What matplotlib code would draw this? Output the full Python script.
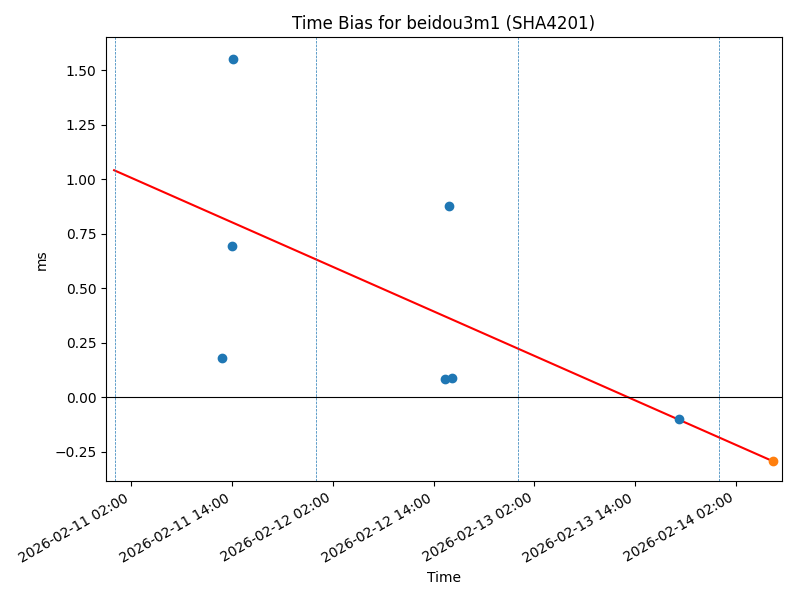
import matplotlib
matplotlib.use("Agg")
import matplotlib.pyplot as plt
import matplotlib.dates as mdates
import numpy as np
import pandas as pd

times = pd.to_datetime([
    "2026-02-11 12:49", "2026-02-11 14:05", "2026-02-11 14:00",
    "2026-02-12 15:51", "2026-02-12 15:20", "2026-02-12 16:12",
    "2026-02-13 19:10",
])
bias_ms = [0.182, 1.552, 0.693, 0.879, 0.084, 0.090, -0.102]

latest_time = pd.to_datetime(["2026-02-14 06:26"])
latest_bias = [-0.294]

fit_times = pd.to_datetime(["2026-02-10 23:56", "2026-02-14 06:26"])
fit_values = [1.041, -0.294]

midnights = pd.to_datetime(["2026-02-11", "2026-02-12", "2026-02-13", "2026-02-14"])

xlim = pd.to_datetime(["2026-02-10 23:01", "2026-02-14 07:26"])
ylim = (-0.385, 1.651)

fig, ax = plt.subplots(figsize=(8, 6), dpi=100)
ax.scatter(times, bias_ms, color="tab:blue", zorder=3)
ax.scatter(latest_time, latest_bias, color="tab:orange", zorder=3)
ax.plot(fit_times, fit_values, color="red")
ax.axhline(0, color="black", linewidth=0.8)
for m in midnights:
    ax.axvline(m, linestyle="--", linewidth=0.5, color="tab:blue")

ax.set_xlim(xlim[0], xlim[1])
ax.set_ylim(*ylim)
ax.xaxis.set_major_locator(mdates.HourLocator(byhour=[2, 14]))
ax.xaxis.set_major_formatter(mdates.DateFormatter("%Y-%m-%d %H:%M"))
ax.set_title("Time Bias for beidou3m1 (SHA4201)")
ax.set_xlabel("Time")
ax.set_ylabel("ms")
fig.autofmt_xdate()
fig.subplots_adjust(left=0.133, right=0.977, top=0.938, bottom=0.198)
fig.savefig("out.png", dpi=100)
